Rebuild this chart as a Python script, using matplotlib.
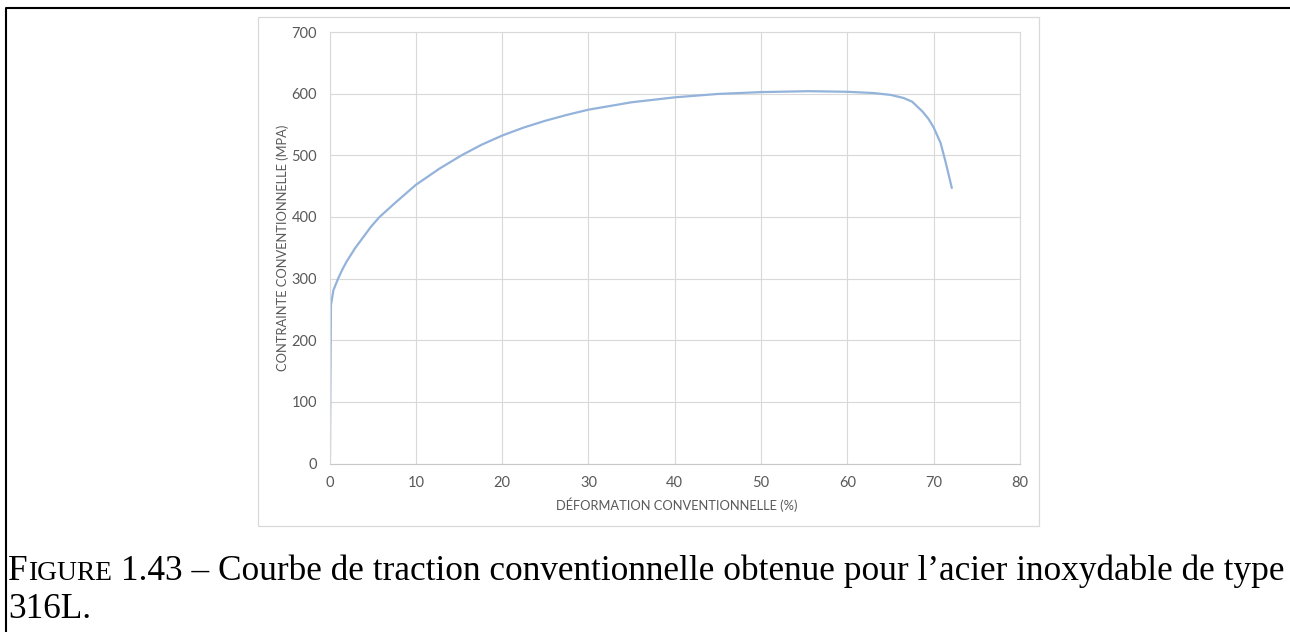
import matplotlib
matplotlib.use('Agg')
from matplotlib import pyplot as plt
from matplotlib.lines import Line2D
from matplotlib.patches import Rectangle

# courbe de traction 316L
deformation = [0.05, 0.1, 0.17, 0.45, 1.0, 1.5, 2.0, 3.0, 3.9, 4.8, 5.8, 7.7,
               10, 12.7, 15.3, 17.6, 20, 22.5, 25, 27.5, 30, 35, 40, 45,
               50, 55.5, 60, 63, 65, 66.5, 67.5, 68.7, 69.4, 70, 70.8, 71.4, 72.1]
contrainte = [5, 130, 257, 281, 300, 315, 328, 350, 367, 384, 400, 424,
              452, 478, 500, 517, 532, 545, 556, 565.5, 574, 586, 594, 599.5,
              602.5, 604, 603, 601, 598, 593, 587, 571, 559, 545, 520, 488, 447]

x_ticks = [0, 10, 20, 30, 40, 50, 60, 70, 80]
y_ticks = [0, 100, 200, 300, 400, 500, 600, 700]

W, H = 1290, 632
fig = plt.figure(figsize=(W / 100, H / 100), dpi=100)

grey_txt = '#595959'
grid_col = '#D9D9D9'

# cadre du graphique Excel
fig.patches.append(Rectangle((258 / W, 1 - 526 / H), (1039 - 258) / W, (526 - 17) / H,
                             transform=fig.transFigure, fill=False,
                             edgecolor=grid_col, lw=0.9))

# cadre noir de la page
fig.lines.append(Line2D([6 / W, 6 / W, 1.0], [0.0, 1 - 8 / H, 1 - 8 / H],
                        transform=fig.transFigure, color='black', lw=1.5))

ax = fig.add_axes([329.5 / W, 1 - 463.5 / H, (1020 - 329.5) / W, (463.5 - 32) / H])
ax.plot(deformation, contrainte, color='#93B3DB', lw=1.6,
        solid_capstyle='round', solid_joinstyle='round')

ax.set_xlim(0, 80)
ax.set_ylim(0, 700)
ax.set_xticks(x_ticks)
ax.set_yticks(y_ticks)
ax.grid(True, color=grid_col, lw=0.8)
ax.set_axisbelow(True)
for s in ax.spines.values():
    s.set_color(grid_col)
    s.set_linewidth(0.8)
ax.spines['bottom'].set_color('#C8C8C8')
ax.tick_params(length=0, labelsize=10.5, labelcolor=grey_txt, pad=9)
for lab in ax.get_xticklabels() + ax.get_yticklabels():
    lab.set_fontfamily('Lato')

ax.set_xlabel('DÉFORMATION CONVENTIONNELLE (%)', fontsize=9.3, color=grey_txt,
              family='Lato', va='center')
ax.xaxis.set_label_coords(0.503, -0.096)
ax.set_ylabel('CONTRAINTE CONVENTIONNELLE (MPA)', fontsize=9.3, color=grey_txt,
              family='Lato', va='center')
ax.yaxis.set_label_coords(-0.0673, 0.4994)

# légende de la figure (petites capitales pour "Figure")
r = fig.canvas.get_renderer()
serif = 'Liberation Serif'


def caption(size):
    objs = []
    x = 8
    y1 = 1 - 580 / H
    for txt, sz in [('F', size), ('IGURE', size * 0.78),
                    (' 1.43 – Courbe de traction conventionnelle obtenue pour l’acier inoxydable de type', size)]:
        t = fig.text(x / W, y1, txt, fontsize=sz, family=serif, va='baseline', ha='left')
        x = t.get_window_extent(r).x1
        objs.append(t)
    t2 = fig.text(8 / W, 1 - 618 / H, '316L.', fontsize=size, family=serif, va='baseline', ha='left')
    objs.append(t2)
    return objs, x


objs, xend = caption(22)
size = 22 * (1280 - 8) / (xend - 8)
for o in objs:
    o.remove()
caption(size)

fig.savefig('out.png', dpi=100)
